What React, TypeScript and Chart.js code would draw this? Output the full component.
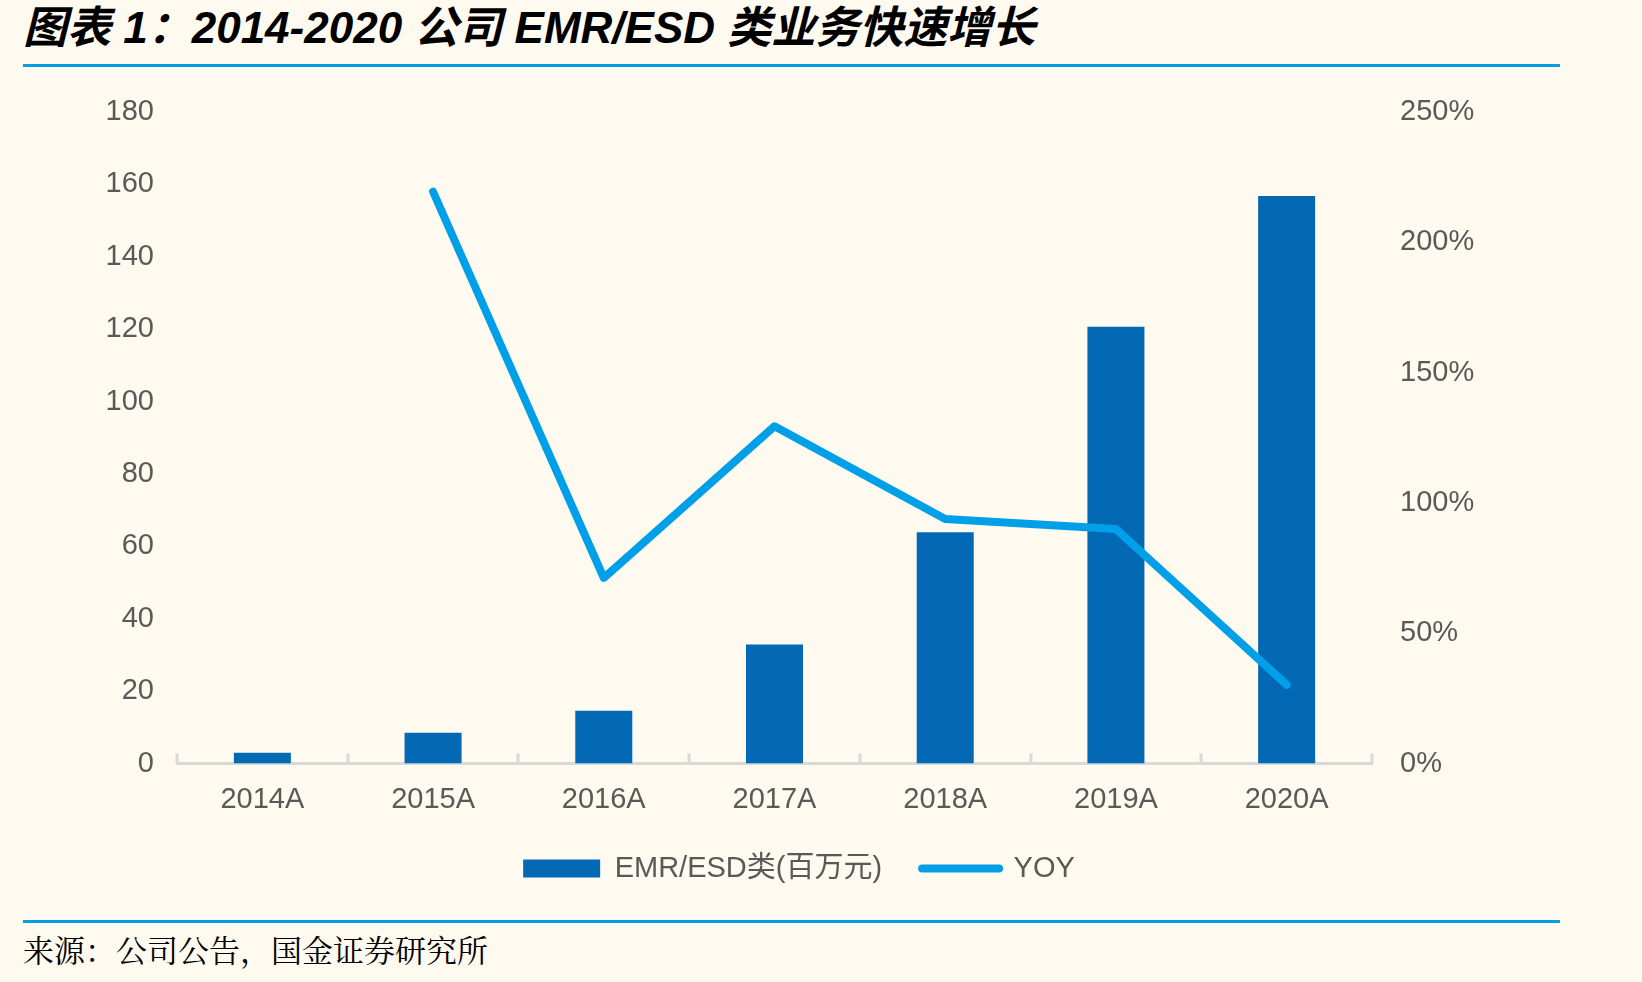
import React, { useEffect, useRef } from "react";
import { Chart, registerables } from "chart.js";

Chart.register(...registerables);

const categories = ["2014A", "2015A", "2016A", "2017A", "2018A", "2019A", "2020A"];
const emrValues = [3.0, 8.5, 14.6, 32.9, 63.9, 120.7, 156.8];
const yoyValues = [null, 219.4, 71.2, 129.4, 93.8, 90.0, 30.2];
const barLabel = "EMR/ESD类(百万元)";
const lineLabel = "YOY";
const titleText = "图表 1：2014-2020 公司 EMR/ESD 类业务快速增长";
const sourceText = "来源：公司公告，国金证券研究所";

const BAR_COLOR = "#0369B4";
const LINE_COLOR = "#00A0E9";
const TEXT_COLOR = "#595959";
const AXIS_COLOR = "#D9D9D9";
const BG = "#FFFAF0";
const RULE = "#009FE3";

const FONT = '"Liberation Sans", Arial, "Noto Sans CJK SC", sans-serif';

const catTicks = {
  id: "catTicks",
  beforeDatasetsDraw(chart: any) {
    const xs = chart.scales.x;
    const ctx = chart.ctx;
    const bottom = chart.chartArea.bottom;
    ctx.save();
    ctx.strokeStyle = AXIS_COLOR;
    ctx.lineWidth = 3;
    for (let i = 0; i <= categories.length; i++) {
      const px = Math.round(xs.getPixelForValue(i - 0.5));
      ctx.beginPath();
      ctx.moveTo(px, bottom);
      ctx.lineTo(px, bottom - 10);
      ctx.stroke();
    }
    ctx.restore();
  },
};

export default function App() {
  const ref = useRef<HTMLCanvasElement | null>(null);

  useEffect(() => {
    if (!ref.current) return;
    Chart.defaults.font.family = FONT;
    const chart = new Chart(ref.current, {
      type: "bar",
      data: {
        labels: categories,
        datasets: [
          {
            type: "bar",
            label: barLabel,
            data: emrValues,
            backgroundColor: BAR_COLOR,
            borderWidth: 0,
            barPercentage: 0.334,
            categoryPercentage: 1.0,
            yAxisID: "y",
            order: 1,
          },
          {
            type: "line",
            label: lineLabel,
            data: yoyValues as any,
            borderColor: LINE_COLOR,
            backgroundColor: LINE_COLOR,
            borderWidth: 8,
            borderCapStyle: "round",
            borderJoinStyle: "round",
            pointRadius: 0,
            pointHoverRadius: 0,
            tension: 0,
            yAxisID: "y1",
            order: 0,
          } as any,
        ],
      },
      options: {
        responsive: false,
        animation: false,
        devicePixelRatio: 1,
        layout: { padding: { top: 32, left: 0, right: 44, bottom: 7 } },
        plugins: {
          tooltip: { enabled: false },
          title: { display: false },
          legend: {
            position: "bottom",
            labels: {
              usePointStyle: true,
              pointStyleWidth: 77,
              boxHeight: 18,
              padding: 40,
              color: TEXT_COLOR,
              font: { size: 29, family: FONT },
              sort: (a: any, b: any) => a.datasetIndex - b.datasetIndex,
              generateLabels: (ch: any) =>
                ch.data.datasets.map((ds: any, i: number) => ({
                  text: ds.label,
                  datasetIndex: i,
                  fillStyle: i === 0 ? BAR_COLOR : LINE_COLOR,
                  strokeStyle: i === 0 ? BAR_COLOR : LINE_COLOR,
                  lineWidth: i === 0 ? 0 : 8,
                  lineCap: "round",
                  pointStyle: i === 0 ? "rect" : "line",
                  fontColor: TEXT_COLOR,
                  hidden: false,
                })),
            },
          },
        },
        scales: {
          x: {
            type: "category",
            grid: { display: false, drawTicks: false },
            border: { display: true, color: AXIS_COLOR, width: 3 },
            ticks: {
              color: TEXT_COLOR,
              font: { size: 29 },
              padding: 19,
              maxRotation: 0,
              autoSkip: false,
            },
            afterFit: (s: any) => {
              s.height = 50.5;
            },
          },
          y: {
            type: "linear",
            position: "left",
            min: 0,
            max: 180,
            grid: { display: false, drawTicks: false },
            border: { display: false },
            ticks: {
              stepSize: 20,
              color: TEXT_COLOR,
              font: { size: 29 },
              padding: 23,
            },
            afterFit: (s: any) => {
              s.width = 177;
              s.paddingTop = 0;
              s.paddingBottom = 0;
            },
          },
          y1: {
            type: "linear",
            position: "right",
            min: 0,
            max: 250,
            grid: { display: false, drawTicks: false },
            border: { display: false },
            ticks: {
              stepSize: 50,
              color: TEXT_COLOR,
              font: { size: 29 },
              padding: 28,
              callback: (v: any) => `${v}%`,
            },
            afterFit: (s: any) => {
              s.width = 1642 - 44 - 1372;
              s.paddingTop = 0;
              s.paddingBottom = 0;
            },
          },
        },
      },
      plugins: [catTicks],
    } as any);
    return () => chart.destroy();
  }, []);

  return (
    <div
      style={{
        position: "absolute",
        left: 0,
        top: 0,
        width: 1642,
        height: 982,
        background: BG,
        overflow: "hidden",
      }}
    >
      <div
        style={{
          position: "absolute",
          left: 23,
          top: -1,
          height: 58,
          lineHeight: "58px",
          fontSize: 44,
          fontWeight: "bold",
          fontStyle: "italic",
          fontFamily: '"Liberation Sans", Arial, "Noto Sans CJK SC", sans-serif',
          color: "#000",
          whiteSpace: "nowrap",
        }}
      >
        {titleText}
      </div>
      <div
        style={{
          position: "absolute",
          left: 23,
          top: 64,
          width: 1537,
          height: 3,
          background: RULE,
        }}
      />
      <canvas
        ref={ref}
        width={1642}
        height={820}
        style={{ position: "absolute", left: 0, top: 80, width: 1642, height: 820, display: "block" }}
      />
      <div
        style={{
          position: "absolute",
          left: 23,
          top: 920,
          width: 1537,
          height: 3,
          background: RULE,
        }}
      />
      <div
        style={{
          position: "absolute",
          left: 23,
          top: 931,
          height: 36,
          lineHeight: "36px",
          fontSize: 31,
          fontFamily: '"Noto Serif CJK SC", "Noto Sans CJK SC", serif',
          color: "#000",
          whiteSpace: "nowrap",
        }}
      >
        {sourceText}
      </div>
    </div>
  );
}
